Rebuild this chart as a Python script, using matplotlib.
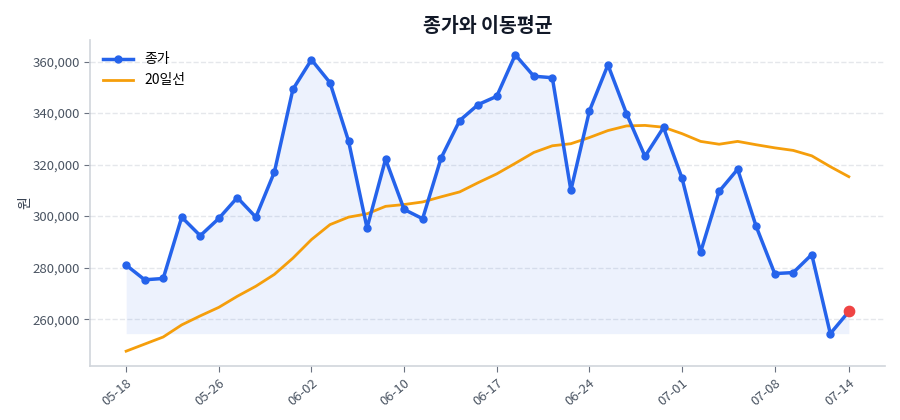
import matplotlib.pyplot as plt
import numpy as np

plt.rcParams['font.family'] = ['Noto Sans CJK KR', 'DejaVu Sans']

# 종가 (close) and 20-day moving average
close = [281000, 275300, 275800, 299600, 292400, 299100, 307200, 299600, 317100, 349200,
         360700, 351800, 329200, 295400, 322100, 302600, 299000, 322600, 337100, 343300,
         346500, 362600, 354300, 353700, 310000, 340800, 358700, 339800, 323200, 334400,
         314700, 286000, 309600, 318200, 296000, 277700, 278100, 285100, 254400, 263000]
ma20 = [247600, 250350, 253100, 257800, 261300, 264600, 268900, 272800, 277400, 283700,
        290900, 296700, 299600, 300900, 303800, 304500, 305500, 307500, 309400, 313000,
        316400, 320500, 324700, 327300, 328100, 330500, 333200, 335000, 335200, 334500,
        332000, 329000, 327900, 329000, 327700, 326500, 325500, 323400, 319200, 315300]
tick_idx = [0, 5, 10, 15, 20, 25, 30, 35, 39]
tick_labels = ['05-18', '05-26', '06-02', '06-10', '06-17', '06-24', '07-01', '07-08', '07-14']

x = np.arange(len(close))
close = np.array(close)

fig = plt.figure(figsize=(9, 4.2), dpi=100)
ax = fig.add_axes([0.1, 0.1286, 0.8833, 0.7762])

ax.fill_between(x, close, close.min(), color='#2563eb', alpha=0.08, linewidth=0)
ax.plot(x, close, color='#2563eb', linewidth=2.5, marker='o', markersize=5, label='종가', zorder=3)
ax.plot(x, ma20, color='#f59e0b', linewidth=2, label='20일선', zorder=2)
ax.scatter([x[-1]], [close[-1]], color='#ef4444', s=55, zorder=4)

ax.set_title('종가와 이동평균', fontsize=14, fontweight='bold', color='#111827', pad=6)
ax.set_ylabel('원', fontsize=10, color='#374151', labelpad=0)
ax.yaxis.set_major_formatter(plt.FuncFormatter(lambda v, p: f'{v:,.0f}'))
ax.set_xticks(tick_idx)
ax.set_xticklabels(tick_labels, rotation=40, ha='right', rotation_mode='anchor')
ax.tick_params(axis='both', labelsize=9.5, colors='#4b5563', length=4, color='#6b7280')

ax.grid(axis='y', linestyle='--', color='#e5e7eb', linewidth=1)
ax.set_axisbelow(True)
for s in ['top', 'right']:
    ax.spines[s].set_visible(False)
for s in ['left', 'bottom']:
    ax.spines[s].set_color('#d1d5db')
    ax.spines[s].set_linewidth(1.2)

ax.legend(loc='upper left', frameon=False, fontsize=10, markerscale=1, handlelength=2.2)

plt.savefig('out.png', dpi=100)
